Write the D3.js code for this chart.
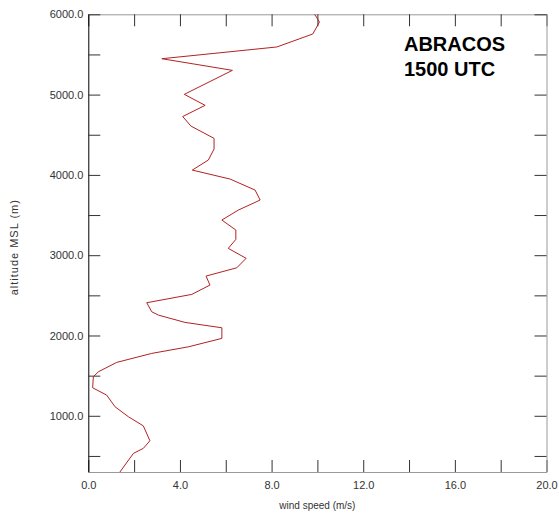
<!DOCTYPE html>
<html>
<head>
<meta charset="utf-8">
<script src="https://cdn.jsdelivr.net/npm/d3@7"></script>
<style>
  body { margin: 0; background: #fff; }
  text { font-family: "Liberation Sans", Arial, sans-serif; }
</style>
</head>
<body>
<div id="chart"></div>
<script>
// wind speed profile (bottom to top)
var altitude = [300, 532, 594, 689, 875, 988, 1112, 1258, 1349, 1486, 1548, 1665, 1777, 1859,
  1964, 2096, 2163, 2254, 2295, 2408, 2512, 2628, 2740, 2843, 2961, 3085, 3197, 3313, 3438,
  3562, 3687, 3811, 3948, 4060, 4185, 4322, 4455, 4608, 4727, 4866, 5003, 5302, 5447, 5593,
  5755, 5904, 6000];
var windSpeed = [1.38, 1.97, 2.40, 2.69, 2.40, 1.75, 1.17, 0.80, 0.19, 0.22, 0.44, 1.24, 2.77, 4.37,
  5.83, 5.83, 4.22, 3.06, 2.77, 2.55, 4.52, 5.31, 5.14, 6.48, 6.89, 6.11, 6.44, 6.44, 5.83,
  6.55, 7.50, 7.28, 6.19, 4.54, 5.24, 5.49, 5.49, 4.48, 4.12, 5.10, 4.19, 6.29, 3.21, 8.23,
  9.80, 10.09, 9.88];

var xTicks = [0, 2, 4, 6, 8, 10, 12, 14, 16, 18, 20];
var xLabels = [0, 4, 8, 12, 16, 20];
var yTicks = [500, 1000, 1500, 2000, 2500, 3000, 3500, 4000, 4500, 5000, 5500, 6000];
var yLabels = [1000, 2000, 3000, 4000, 5000, 6000];
var titleLines = ["ABRACOS", "1500 UTC"];

var W = 559, H = 515;
var margin = { top: 14.3, right: 12.5, bottom: 43, left: 88.3 },
    width = W - margin.left - margin.right,
    height = H - margin.top - margin.bottom;

var svg = d3.select("#chart")
  .append("svg")
  .attr("width", W)
  .attr("height", H)
  .append("g")
  .attr("transform", "translate(" + margin.left + "," + margin.top + ")");

var x = d3.scaleLinear().domain([0, 20]).range([0, width]);
var y = d3.scaleLinear().domain([300, 6000]).range([height, 0]);

var fmt = d3.format(".1f");

// bottom axis, ticks pointing in
var bottom = svg.append("g")
  .attr("transform", "translate(0," + height + ")")
  .call(d3.axisBottom(x).tickValues(xTicks).tickSizeInner(-12).tickSizeOuter(0).tickPadding(9)
    .tickFormat(function (d) { return xLabels.indexOf(d) >= 0 ? fmt(d) : ""; }));

var top = svg.append("g")
  .call(d3.axisTop(x).tickValues(xTicks).tickSizeInner(-12).tickSizeOuter(0).tickFormat(""));

var left = svg.append("g")
  .call(d3.axisLeft(y).tickValues(yTicks).tickSizeInner(-12).tickSizeOuter(0).tickPadding(5)
    .tickFormat(function (d) { return yLabels.indexOf(d) >= 0 ? fmt(d) : ""; }));

var right = svg.append("g")
  .attr("transform", "translate(" + width + ",0)")
  .call(d3.axisRight(y).tickValues(yTicks).tickSizeInner(-12).tickSizeOuter(0).tickFormat(""));

svg.selectAll(".tick line").attr("stroke", "#333");
svg.selectAll(".domain").attr("stroke", "#999");
left.select(".domain").attr("stroke", "#000");
svg.selectAll(".tick text")
  .attr("fill", "#333")
  .style("font-size", "11px");

// profile line
var pts = altitude.map(function (a, i) { return [windSpeed[i], a]; });
svg.append("path")
  .datum(pts)
  .attr("fill", "none")
  .attr("stroke", "#b22222")
  .attr("stroke-width", 1)
  .attr("d", d3.line()
    .x(function (d) { return x(d[0]); })
    .y(function (d) { return y(d[1]); }));

// axis titles
svg.append("text")
  .attr("x", width / 2)
  .attr("y", height + 37)
  .attr("text-anchor", "middle")
  .attr("fill", "#333")
  .style("font-size", "10px")
  .text("wind speed (m/s)");

svg.append("text")
  .attr("transform", "translate(-70," + (y(3000) - 8) + ") rotate(-90)")
  .attr("text-anchor", "middle")
  .attr("fill", "#333")
  .style("font-size", "11px")
  .style("letter-spacing", "1px")
  .text("altitude MSL (m)");

// station label
svg.selectAll(".title")
  .data(titleLines)
  .enter()
  .append("text")
  .attr("class", "title")
  .attr("x", 404 - margin.left)
  .attr("y", function (d, i) { return 50.7 - margin.top + i * 25.5; })
  .style("font-size", "20px")
  .style("font-weight", "bold")
  .attr("fill", "#000")
  .text(function (d) { return d; });
</script>
</body>
</html>
